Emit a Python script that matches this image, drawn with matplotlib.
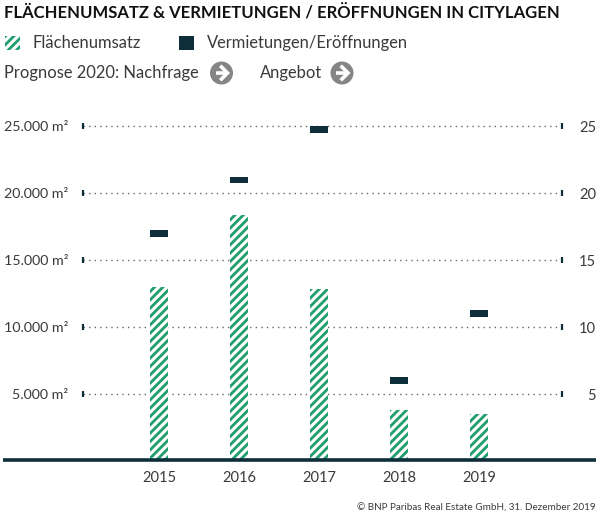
import matplotlib
matplotlib.use("Agg")
import matplotlib.pyplot as plt
from matplotlib.patches import Circle, Rectangle

W = 600
H = 518

years = [2015, 2016, 2017, 2018, 2019]
flaeche = [13000, 18400, 12850, 3800, 3500]
vermietungen = [17.0, 21.0, 24.8, 6.05, 11.05]
left_ticks = [5000, 10000, 15000, 20000, 25000]
left_labels = ["5.000 m²", "10.000 m²", "15.000 m²", "20.000 m²", "25.000 m²"]
right_ticks = [5, 10, 15, 20, 25]

GREEN = "#1f9e6e"
DARK = "#0e2f3a"
TEXT = "#3a3a3a"
GREY = "#858585"

plt.rcParams["font.family"] = ["Lato", "DejaVu Sans"]
plt.rcParams["hatch.linewidth"] = 2.0

fig = plt.figure(figsize=(W / 100, H / 100), dpi=100)

# axes runs between the small end ticks, y from 0 (px 461) to 25000 (px 126.5)
ax = fig.add_axes([83 / W, (H - 461) / H, (562 - 83) / W, (461 - 126.5) / H])
x0 = 2015 - 0.95
x1 = 2015 + 5.0375
ax.set_xlim(x0, x1)
ax.set_ylim(0, 25000)
for s in ax.spines.values():
    s.set_visible(False)

ax.hlines(left_ticks, x0, x1, color="#666666", lw=1, linestyle=(0, (1, 3)), zorder=1, clip_on=False)
# little upright ticks at both ends of each dotted line
ax.plot([x0] * 5, left_ticks, ls="", marker="|", ms=5, mew=1.6, color=DARK, zorder=1, clip_on=False)
ax.plot([x1] * 5, left_ticks, ls="", marker="|", ms=5, mew=1.6, color=DARK, zorder=1, clip_on=False)
ax.bar(years, flaeche, width=18 / 80, color="white", edgecolor=GREEN, hatch="////", linewidth=0, zorder=2)
ax.set_xticks(years)
ax.set_xticklabels(years, fontsize=10.5, color=TEXT)
ax.tick_params(axis="x", length=0, pad=7.5)
ax.set_yticks(left_ticks)
ax.set_yticklabels(left_labels, fontsize=10.3, color=TEXT)
ax.tick_params(axis="y", length=0, pad=10.8)

ax2 = ax.twinx()
ax2.set_ylim(0, 25)
for s in ax2.spines.values():
    s.set_visible(False)
ax2.bar(years, [0.52] * len(years), bottom=[v - 0.26 for v in vermietungen], width=18 / 80,
        color=DARK, linewidth=0, zorder=3, clip_on=False)
ax2.set_yticks(right_ticks)
ax2.set_yticklabels(right_ticks, fontsize=10.5, color=TEXT, ha="right")
ax2.tick_params(axis="y", length=0, pad=24.5)

# overlay in pixel coordinates for title, legend, baseline, footer
ov = fig.add_axes([0, 0, 1, 1], zorder=5)
ov.set_xlim(0, W)
ov.set_ylim(H, 0)
ov.axis("off")


def arrow_icon(cx, cy):
    ov.add_patch(Circle((cx, cy), 11.5, color=GREY, lw=0))
    ov.plot([cx - 6, cx + 5], [cy, cy], color="white", lw=2.6, solid_capstyle="butt")
    ov.plot([cx, cx + 6, cx], [cy - 6, cy, cy + 6], color="white", lw=2.6, solid_joinstyle="miter")


ov.plot([3, 596], [460, 460], color=DARK, lw=2.6, solid_capstyle="butt")

ov.text(4, 12, "FLÄCHENUMSATZ & VERMIETUNGEN / ERÖFFNUNGEN IN CITYLAGEN", fontsize=11.95,
        fontweight="bold", color="#111111", va="center", ha="left")

ov.add_patch(Rectangle((5, 36), 15, 14, facecolor="white", edgecolor=GREEN, hatch="////", linewidth=0))
ov.text(32, 43, "Flächenumsatz", fontsize=11.9, color=TEXT, va="center")
ov.add_patch(Rectangle((179, 36), 15, 14, facecolor=DARK, linewidth=0))
ov.text(207, 43, "Vermietungen/Eröffnungen", fontsize=11.9, color=TEXT, va="center")
ov.text(4, 73, "Prognose 2020: Nachfrage", fontsize=11.9, color=TEXT, va="center")
arrow_icon(221.5, 73)
ov.text(260, 73, "Angebot", fontsize=11.9, color=TEXT, va="center")
arrow_icon(342, 73)

ov.text(596, 508, "© BNP Paribas Real Estate GmbH, 31. Dezember 2019", fontsize=7.1, color=TEXT,
        va="center", ha="right")

fig.savefig("out.png", dpi=100)
